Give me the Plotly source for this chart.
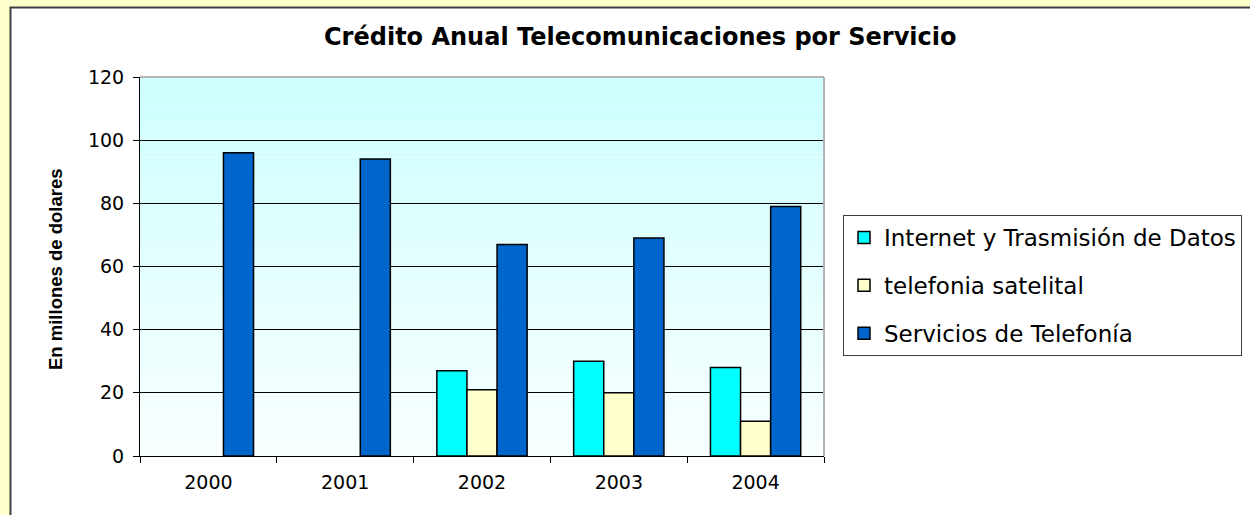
import plotly.graph_objects as go

years = ["2000", "2001", "2002", "2003", "2004"]
internet = [None, None, 27, 30, 28]
satelital = [None, None, 21, 20, 11]
servicios = [96, 94, 67, 69, 79]
series_names = ["Internet y Trasmisión de Datos", "telefonia satelital", "Servicios de Telefonía"]
series_colors = ["#00FFFF", "#FFFFCC", "#0066CC"]
y_ticks = [0, 20, 40, 60, 80, 100, 120]

W, H = 1250, 515
L, R, T, B = 140, 426, 77, 59
PW, PH = W - L - R, H - T - B


def px_x(p):
    return (p - L) / PW


def px_y(p):
    return (H - B - p) / PH


fig = go.Figure()
for name, vals, col in zip(series_names, [internet, satelital, servicios], series_colors):
    fig.add_trace(go.Bar(
        x=years, y=vals, name=name, legendgroup=name,
        marker=dict(color=col, line=dict(color="#000000", width=1.5)),
    ))

shapes = []
# outer frame
shapes.append(dict(type="rect", xref="paper", yref="paper",
                   x0=px_x(10.5), x1=px_x(1320), y0=px_y(7.5), y1=px_y(600),
                   fillcolor="#FFFFFF", line=dict(color="#404040", width=2), layer="below"))
# gradient plot background
n = 80
top = (204, 255, 255)
bot = (248, 255, 255)
for i in range(n):
    t = i / (n - 1)
    c = tuple(round(top[k] + (bot[k] - top[k]) * t) for k in range(3))
    shapes.append(dict(type="rect", xref="paper", yref="paper",
                       x0=0, x1=1, y0=1 - (i + 1) / n, y1=1 - i / n,
                       fillcolor="rgb(%d,%d,%d)" % c, line=dict(width=0), layer="below"))
# gray top and right border
shapes.append(dict(type="line", xref="paper", yref="paper", x0=0, x1=1, y0=1, y1=1,
                   line=dict(color="#B4B4B4", width=2), layer="above"))
shapes.append(dict(type="line", xref="paper", yref="paper", x0=1, x1=1, y0=0, y1=1,
                   line=dict(color="#B4B4B4", width=2), layer="above"))

fig.update_layout(
    width=W, height=H,
    margin=dict(l=L, r=R, t=T, b=B, autoexpand=False),
    paper_bgcolor="#FFFFCC",
    plot_bgcolor="rgb(226,255,255)",
    barmode="group", bargap=0.34, bargroupgap=0,
    font=dict(family="DejaVu Sans", color="#000000", size=19),
    shapes=shapes,
    legend=dict(
        x=px_x(843), y=px_y(215), xanchor="left", yanchor="top",
        bgcolor="#FFFFFF", bordercolor="#404040", borderwidth=1,
        font=dict(family="DejaVu Sans", size=23, color="#000000"),
        traceorder="grouped", tracegroupgap=15,
    ),
    annotations=[
        dict(text="<b>Crédito Anual Telecomunicaciones por Servicio</b>",
             xref="paper", yref="paper", x=px_x(640), y=px_y(37),
             xanchor="center", yanchor="middle", showarrow=False,
             font=dict(family="DejaVu Sans", size=24, color="#000000")),
        dict(text="<b>En millones de dolares</b>",
             xref="paper", yref="paper", x=px_x(55), y=px_y(269),
             xanchor="center", yanchor="middle", showarrow=False, textangle=-90,
             font=dict(family="Liberation Sans", size=18.5, color="#000000")),
    ],
)

fig.update_xaxes(
    type="category", showline=True, linecolor="#000000", linewidth=1,
    ticks="outside", tickson="boundaries", ticklen=6, tickcolor="#000000",
    showgrid=False, ticklabelstandoff=9,
)
fig.update_yaxes(
    range=[0, 120], tickvals=y_ticks, showline=True, linecolor="#000000", linewidth=1,
    ticks="outside", ticklen=6, tickcolor="#000000",
    showgrid=True, gridcolor="#000000", gridwidth=1, zeroline=False,
    ticklabelstandoff=5,
)

fig.write_html("out.html", config={"displayModeBar": False},
               post_script="document.body.style.margin='0';")
